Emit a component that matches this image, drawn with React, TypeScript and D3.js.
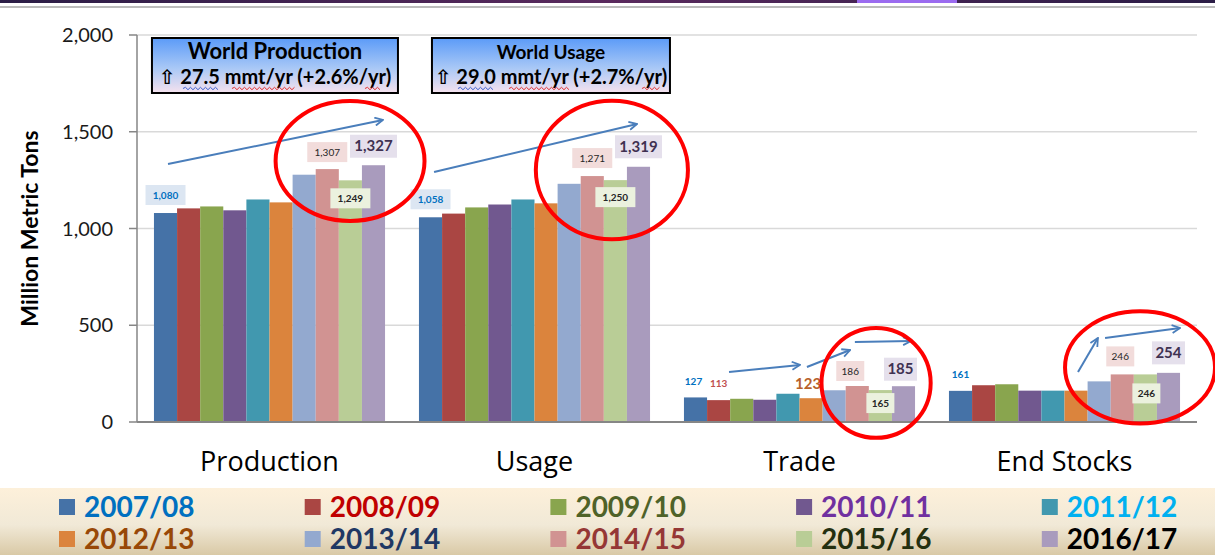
import React from "react";
import * as d3 from "d3";

const categories = ["Production", "Usage", "Trade", "End Stocks"];
const years = ["2007/08", "2008/09", "2009/10", "2010/11", "2011/12", "2012/13", "2013/14", "2014/15", "2015/16", "2016/17"];
const production = [1080, 1104, 1114, 1094, 1150, 1135, 1278, 1307, 1249, 1327];
const usage = [1058, 1077, 1109, 1124, 1150, 1130, 1231, 1271, 1250, 1319];
const trade = [127, 113, 120, 115, 146, 123, 164, 186, 165, 185];
const endStocks = [161, 190, 195, 162, 162, 162, 210, 246, 246, 254];
const seriesByCategory = [production, usage, trade, endStocks];
const barColors = ["#4572A7", "#AA4643", "#89A54E", "#71588F", "#4198AF", "#DB843D", "#93A9CF", "#D19392", "#B9CD96", "#A99BBD"];
const legendTextColors = ["#0070C0", "#C00000", "#4F6228", "#7030A0", "#00B0F0", "#984807", "#1F3864", "#953735", "#243010", "#000000"];
const yTicks = [0, 500, 1000, 1500, 2000];

// data labels: category index, year index, label text, style, offsets
const dataLabels = [
  { c: 0, i: 0, t: "1,080", k: "blue", dx: 0, dy: -18 },
  { c: 0, i: 7, t: "1,307", k: "pink", dx: 0, dy: -17 },
  { c: 0, i: 9, t: "1,327", k: "lav", dx: 0, dy: -19 },
  { c: 0, i: 8, t: "1,249", k: "green", dx: 0, dy: 18 },
  { c: 1, i: 0, t: "1,058", k: "blue", dx: 0, dy: -18 },
  { c: 1, i: 7, t: "1,271", k: "pink", dx: 0, dy: -18 },
  { c: 1, i: 9, t: "1,319", k: "lav", dx: 0, dy: -20 },
  { c: 1, i: 8, t: "1,250", k: "green", dx: 0, dy: 17 },
  { c: 2, i: 0, t: "127", k: "tblue", dx: -2, dy: -16 },
  { c: 2, i: 1, t: "113", k: "tred", dx: 0, dy: -17 },
  { c: 2, i: 5, t: "123", k: "torange", dx: -3, dy: -14 },
  { c: 2, i: 7, t: "186", k: "pink", dx: -7, dy: -15 },
  { c: 2, i: 9, t: "185", k: "lav", dx: -3, dy: -17 },
  { c: 2, i: 8, t: "165", k: "green", dx: 0, dy: 13 },
  { c: 3, i: 0, t: "161", k: "tblue", dx: 0, dy: -16 },
  { c: 3, i: 7, t: "246", k: "pink", dx: -2, dy: -18 },
  { c: 3, i: 9, t: "254", k: "lav", dx: 0, dy: -20 },
  { c: 3, i: 8, t: "246", k: "green", dx: 1, dy: 19 },
];

// trend arrows in data space: x in category units (0..4), y in value units
const arrows = [
  [0.117, 1333, 0.928, 1561],
  [1.121, 1292, 1.887, 1540],
  [2.234, 258, 2.502, 295],
  [2.528, 284, 2.691, 372],
  [2.709, 413, 2.921, 419],
  [3.551, 258, 3.626, 434],
  [3.653, 434, 3.936, 486],
];
// red highlight ellipses: cx (category units), cy (value), rx (category units), ry (value units)
const ellipses = [
  [0.804, 1349, 0.281, 310],
  [1.792, 1302, 0.287, 358],
  [2.789, 202, 0.206, 284],
  [3.785, 282, 0.283, 290],
];

const summaryBoxes = [
  { c: 0, title: "World Production", line: "27.5 mmt/yr (+2.6%/yr)", titleSize: 22, squiggles: [[31, 66, "#3A5FD0"], [80, 143, "#E03030"], [213, 229, "#E03030"]] },
  { c: 1, title: "World Usage", line: "29.0 mmt/yr (+2.7%/yr)", titleSize: 19, squiggles: [[26, 61, "#3A5FD0"], [77, 139, "#E03030"], [210, 228, "#E03030"]] },
];

const W = 1215, H = 555;
const plotLeft = 137, plotRight = 1197, plotTop = 35, plotBottom = 422;

const styles: Record<string, any> = {
  blue: { bg: "#DCE6F2", fg: "#0070C0", size: 10, weight: 700, h: 20 },
  pink: { bg: "#F2DCDB", fg: "#262626", size: 10, weight: 400, h: 20 },
  green: { bg: "#EBF1DE", fg: "#262626", size: 10, weight: 700, h: 20 },
  lav: { bg: "#E5E0EC", fg: "#3F3151", size: 15, weight: 700, h: 23 },
  tblue: { bg: null, fg: "#0070C0", size: 10, weight: 700, h: 20 },
  tred: { bg: null, fg: "#C0504D", size: 10, weight: 700, h: 20 },
  torange: { bg: null, fg: "#B7612B", size: 15, weight: 700, h: 20 },
};

function wave(a: number, b: number, yy: number) {
  let p = `M${a},${yy}`;
  let up = true;
  for (let x = a + 2.5; x <= b; x += 2.5) {
    p += ` L${x},${yy + (up ? -1.2 : 1.2)}`;
    up = !up;
  }
  return p;
}

export default function App() {
  const x0 = d3.scaleBand().domain(categories).range([plotLeft, plotRight]).paddingInner(0.128).paddingOuter(0.064);
  const x1 = d3.scaleBand().domain(years).range([0, x0.bandwidth()]).padding(0);
  const y = d3.scaleLinear().domain([0, 2000]).range([plotBottom, plotTop]);
  const xu = d3.scaleLinear().domain([0, 4]).range([plotLeft, plotRight]);
  const fmt = d3.format(",");
  const font = "Lato, 'DejaVu Sans', sans-serif";

  const legendCols = 5;
  const legendX = d3.scaleLinear().domain([0, legendCols]).range([59, 59 + 245.7 * legendCols]);

  return (
    <div style={{ position: "fixed", left: 0, top: 0 }}>
      <svg width={W} height={H} style={{ display: "block", background: "#fff" }}>
        <defs>
          <linearGradient id="topbar" x1="0" x2="1" y1="0" y2="0">
            <stop offset="0" stopColor="#2B1D46" />
            <stop offset="0.5" stopColor="#5A2A5E" />
            <stop offset="1" stopColor="#2B1D46" />
          </linearGradient>
          <linearGradient id="legendbg" x1="0" x2="0" y1="0" y2="1">
            <stop offset="0" stopColor="#FDF0DA" />
            <stop offset="0.55" stopColor="#F1E9D7" />
            <stop offset="1" stopColor="#D9C9A6" />
          </linearGradient>
          <linearGradient id="boxbg" x1="0" x2="0" y1="0" y2="1">
            <stop offset="0" stopColor="#5B9BF8" />
            <stop offset="0.55" stopColor="#A9C8F6" />
            <stop offset="1" stopColor="#F6E2EE" />
          </linearGradient>
          <marker id="arrowhead" viewBox="0 0 10 10" refX="9" refY="5" markerWidth="5" markerHeight="5" orient="auto">
            <path d="M1,1 L9,5 L1,9" fill="none" stroke="#4A7EBB" strokeWidth="1.8" />
          </marker>
        </defs>

        {/* top decoration */}
        <rect x={0} y={0} width={W} height={3} fill="url(#topbar)" />
        <rect x={857} y={0} width={100} height={3} fill="#9B6BF0" />
        <line x1={0} x2={W} y1={7} y2={7} stroke="#A6A6A6" strokeWidth={1.5} />

        {/* gridlines */}
        {yTicks.filter((t) => t > 0).map((t) => (
          <line key={t} x1={plotLeft} x2={plotRight} y1={y(t)} y2={y(t)} stroke="#D9D9D9" strokeWidth={1.5} />
        ))}

        {/* bars */}
        {categories.map((cat, ci) => (
          <g key={cat} transform={`translate(${x0(cat)},0)`}>
            {seriesByCategory[ci].map((v, i) => (
              <rect key={i} x={x1(years[i])} y={y(v)} width={x1.bandwidth()} height={y(0) - y(v)} fill={barColors[i]} />
            ))}
          </g>
        ))}

        {/* axes */}
        <line x1={plotLeft} x2={plotLeft} y1={plotTop} y2={plotBottom} stroke="#868686" strokeWidth={1.5} />
        <line x1={plotLeft} x2={plotRight} y1={plotBottom} y2={plotBottom} stroke="#868686" strokeWidth={2} />
        {yTicks.map((t) => (
          <g key={t}>
            <line x1={plotLeft - 8} x2={plotLeft} y1={y(t)} y2={y(t)} stroke="#868686" strokeWidth={1.5} />
            <text x={plotLeft - 24} y={y(t)} dy="0.35em" textAnchor="end" fontFamily={font} fontSize={20} fill="#1a1a1a">
              {fmt(t)}
            </text>
          </g>
        ))}
        <text transform={`translate(38,${(plotTop + plotBottom) / 2}) rotate(-90)`} textAnchor="middle" fontFamily={font} fontWeight={700} fontSize={23} fill="#000">
          Million Metric Tons
        </text>

        {/* category labels */}
        {categories.map((cat) => (
          <text key={cat} x={(x0(cat) as number) + x0.bandwidth() / 2} y={471} textAnchor="middle" fontFamily="'Open Sans', sans-serif" fontSize={27} fill="#000">
            {cat}
          </text>
        ))}

        {/* arrows */}
        {arrows.map((a, k) => (
          <line key={k} x1={xu(a[0])} y1={y(a[1])} x2={xu(a[2])} y2={y(a[3])} stroke="#4A7EBB" strokeWidth={2} markerEnd="url(#arrowhead)" />
        ))}

        {/* data labels */}
        {dataLabels.map((d, k) => {
          const s = styles[d.k];
          const cx = (x0(categories[d.c]) as number) + (x1(years[d.i]) as number) + x1.bandwidth() / 2 + d.dx;
          const cy = y(seriesByCategory[d.c][d.i]) + d.dy;
          const w = s.size > 12 ? d.t.length * 7 + 12 : d.t.length * 6 + 10;
          return (
            <g key={k}>
              {s.bg && <rect x={cx - w / 2} y={cy - s.h / 2} width={w} height={s.h} fill={s.bg} />}
              <text x={cx} y={cy} dy="0.35em" textAnchor="middle" fontFamily={font} fontSize={s.size} fontWeight={s.weight} fill={s.fg}>
                {d.t}
              </text>
            </g>
          );
        })}

        {/* red ellipses */}
        {ellipses.map((e, k) => (
          <ellipse key={k} cx={xu(e[0])} cy={y(e[1])} rx={xu(e[2]) - xu(0)} ry={y(0) - y(e[3])} fill="none" stroke="#FF0000" strokeWidth={4} />
        ))}

        {/* summary boxes */}
        {summaryBoxes.map((b, k) => {
          const bx = x0(categories[b.c]) as number;
          const bw = k === 0 ? 246 : 238;
          const left = k === 0 ? bx - 2 : bx + 13;
          const mid = left + bw / 2;
          return (
            <g key={k}>
              <rect x={left} y={38} width={bw} height={55} fill="url(#boxbg)" stroke="#000" strokeWidth={2} />
              <text x={mid} y={59} textAnchor="middle" fontFamily={font} fontWeight={700} fontSize={b.titleSize} fill="#000">
                {b.title}
              </text>
              <text x={mid} y={84} textAnchor="middle" fontFamily={font} fontWeight={700} fontSize={20} fill="#000">
                {"⇧ " + b.line}
              </text>
              {b.squiggles.map((s: any, j: number) => (
                <path key={j} d={wave(left + s[0], left + s[1], 88.5)} fill="none" stroke={s[2]} strokeWidth={1} />
              ))}
            </g>
          );
        })}

        {/* legend */}
        <rect x={0} y={488} width={W} height={H - 488} fill="url(#legendbg)" />
        {years.map((yr, i) => {
          const col = i % legendCols;
          const row = Math.floor(i / legendCols);
          const lx = legendX(col);
          const ly = 507 + row * 32;
          return (
            <g key={yr}>
              <rect x={lx} y={ly - 8} width={16} height={16} fill={barColors[i]} />
              <text x={lx + 25} y={ly} dy="0.36em" fontFamily={font} fontWeight={700} fontSize={28} fill={legendTextColors[i]}>
                {yr}
              </text>
            </g>
          );
        })}
      </svg>
    </div>
  );
}
